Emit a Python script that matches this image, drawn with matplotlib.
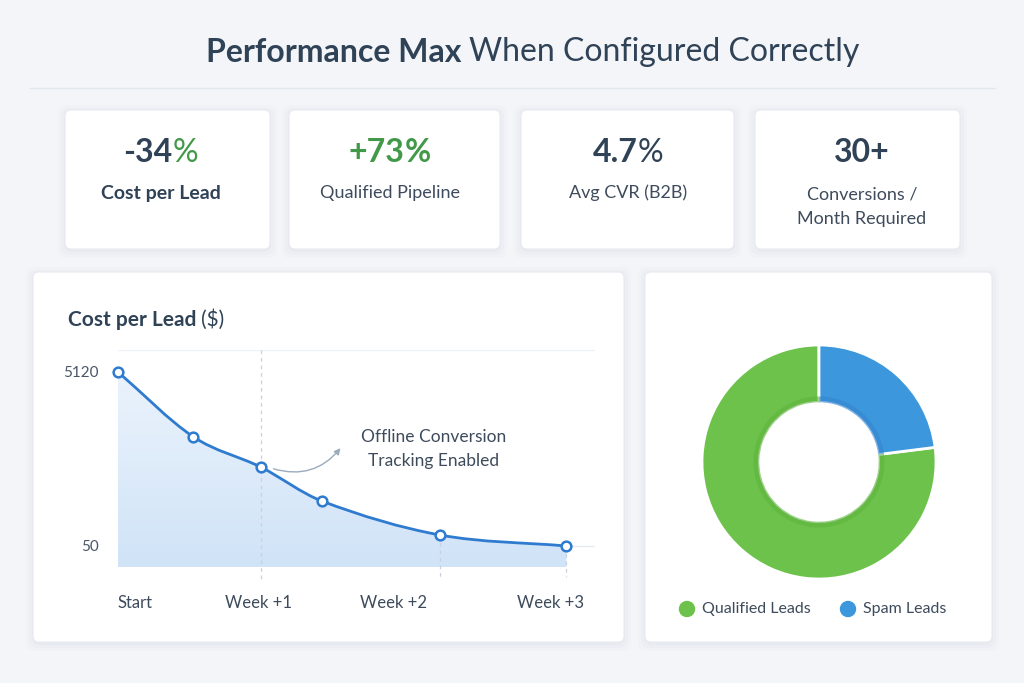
import matplotlib
matplotlib.use("Agg")
import matplotlib.pyplot as plt
import numpy as np
from matplotlib.patches import FancyBboxPatch, Circle, PathPatch
from matplotlib.path import Path
from matplotlib.colors import LinearSegmentedColormap

plt.rcParams['font.family'] = ['Lato', 'DejaVu Sans']

# KPI cards
kpi_values = ["-34", "+73", "4.7", "30+"]
kpi_suffix = ["%", "%", "%", ""]
kpi_labels = ["Cost per Lead", "Qualified Pipeline", "Avg CVR (B2B)", "Conversions /\nMonth Required"]

# cost per lead line (x in days since start)
cpl_days = [0, 3.7, 7, 10, 15.8, 22]
cpl_values = [5120, 3230, 2350, 1360, 370, 50]
week_labels = ["Start", "Week +1", "Week +2", "Week +3"]

# lead split
lead_labels = ["Qualified Leads", "Spam Leads"]
lead_shares = [77, 23]

DARK = "#2f4256"
TEXT = "#3e4b5c"
GREEN = "#43994a"
BLUE_LINE = "#2e7bcf"
BG = "#f3f5f9"

fig = plt.figure(figsize=(10.24, 6.83), dpi=100)
fig.patch.set_facecolor(BG)
bg = fig.add_axes([0, 0, 1, 1])
bg.set_xlim(0, 1024)
bg.set_ylim(683, 0)
bg.axis('off')
renderer = fig.canvas.get_renderer()


def card(x0, y0, x1, y1):
    for i, a in enumerate([0.018, 0.014, 0.010]):
        s = 2 + i * 3
        bg.add_patch(FancyBboxPatch((x0 - s + 1, y0 - s + 3), x1 - x0 + 2 * s - 2, y1 - y0 + 2 * s - 2,
                                    boxstyle="round,pad=0,rounding_size=8", fc="#1c2b45", ec="none",
                                    alpha=a, zorder=1))
    bg.add_patch(FancyBboxPatch((x0, y0), x1 - x0, y1 - y0, boxstyle="round,pad=0,rounding_size=6",
                                fc="white", ec="#e7ebf1", lw=0.8, zorder=2))


def mixed(x, y, parts, align="center"):
    # parts: (text, weight, color, size) drawn side by side
    items = []
    for txt, w, c, s in parts:
        t = bg.text(0, y, txt, fontsize=s, fontweight=w, color=c, va="center", ha="left", zorder=5)
        items.append(t)
    widths = [t.get_window_extent(renderer).width for t in items]
    total = sum(widths)
    start = x - total / 2 if align == "center" else x
    for t, w in zip(items, widths):
        t.set_x(start)
        start += w


def smooth_path(xs, ys):
    # cubic hermite curve through the points, as bezier segments
    xs, ys = np.asarray(xs, float), np.asarray(ys, float)
    n = len(xs)
    m = np.zeros(n)
    m[0] = (ys[1] - ys[0]) / (xs[1] - xs[0])
    m[-1] = (ys[-1] - ys[-2]) / (xs[-1] - xs[-2])
    for i in range(1, n - 1):
        m[i] = (ys[i + 1] - ys[i - 1]) / (xs[i + 1] - xs[i - 1])
    verts = [(xs[0], ys[0])]
    codes = [Path.MOVETO]
    for i in range(n - 1):
        h = (xs[i + 1] - xs[i]) / 3
        verts += [(xs[i] + h, ys[i] + m[i] * h), (xs[i + 1] - h, ys[i + 1] - m[i + 1] * h),
                  (xs[i + 1], ys[i + 1])]
        codes += [Path.CURVE4] * 3
    return verts, codes


# title + divider
mixed(533, 52, [("Performance Max ", "bold", DARK, 23), ("When Configured Correctly", "normal", DARK, 23)])
bg.plot([30, 995], [88, 88], color="#e2e6ed", lw=1, zorder=1)

# KPI cards
card_x = [(65, 270), (289, 500), (521, 734), (755, 960)]
for i, (x0, x1) in enumerate(card_x):
    card(x0, 110, x1, 249)
    cx = [161, 390, 628, 862][i]
    vcol = GREEN if i == 1 else DARK
    scol = GREEN if i in (0, 1) else DARK
    sw = "bold" if i == 1 else "normal"
    parts = [(kpi_values[i], "bold", vcol, 23)]
    if kpi_suffix[i]:
        parts.append((kpi_suffix[i], sw, scol, 23))
    mixed(cx, 153, parts)
    lab = kpi_labels[i]
    if "\n" in lab:
        for j, line in enumerate(lab.split("\n")):
            bg.text(cx, 194 + 25 * j, line, fontsize=13, color=TEXT, ha="center", va="center", zorder=5)
    else:
        bg.text(cx, 193, lab, fontsize=14 if i == 0 else 13, fontweight="bold" if i == 0 else "normal",
                color=DARK if i == 0 else TEXT, ha="center", va="center", zorder=5)

# bottom cards
card(33, 272, 624, 642)
card(645, 272, 992, 642)

mixed(68, 320, [("Cost per Lead ", "bold", DARK, 15), ("($)", "normal", DARK, 15)], align="left")

# line chart
ax = fig.add_axes([118 / 1024, (683 - 567) / 683, 477 / 1024, 217 / 683])
ax.patch.set_visible(False)
ymin, ymax = -562, 5761
ax.set_xlim(0, 23.4)
ax.set_ylim(ymin, ymax)
for s in ax.spines.values():
    s.set_visible(False)

ax.axhline(50, color="#e6ebf2", lw=1, zorder=1)
ax.axhline(ymax, color="#edf0f5", lw=1, zorder=1)

verts, codes = smooth_path(cpl_days, cpl_values)
fill_path = Path(verts + [(cpl_days[-1], ymin), (cpl_days[0], ymin), verts[0]],
                 codes + [Path.LINETO, Path.LINETO, Path.CLOSEPOLY])
cmap = LinearSegmentedColormap.from_list("f", ["#d0e3f7", "#eef5fd"])
grad = np.linspace(0, 1, 256).reshape(-1, 1)
im = ax.imshow(grad, extent=[0, cpl_days[-1], ymin, ymax], origin="lower", cmap=cmap,
               aspect="auto", zorder=1)
im.set_clip_path(fill_path, transform=ax.transData)

dash = dict(color="#c8d1dc", lw=0.9, ls=(0, (3, 3)), clip_on=False, zorder=2)
ax.plot([7, 7], [ymax, -950], **dash)
ax.plot([cpl_days[4]] * 2, [cpl_values[4], -850], **dash)
ax.plot([cpl_days[5]] * 2, [cpl_values[5], -850], **dash)

ax.add_patch(PathPatch(Path(verts, codes), fc="none", ec=BLUE_LINE, lw=2, zorder=4, clip_on=False))
ax.plot(cpl_days, cpl_values, ls="none", marker="o", ms=7, mfc="white", mec=BLUE_LINE,
        mew=1.8, zorder=5, clip_on=False)

ax.set_yticks([50, 5120])
ax.set_yticklabels(["50", "5120"])
ax.set_xticks([0, 6.9, 13.5, 21.2])
ax.set_xticklabels(week_labels)
ax.get_xticklabels()[0].set_ha("left")
ax.tick_params(axis="y", length=0, pad=14, labelsize=11, labelcolor="#4a5568")
ax.tick_params(axis="x", length=0, pad=20, labelsize=12, labelcolor="#3e4b5c")

ax.annotate("", xy=(11.0, 2964), xytext=(7.5, 2323),
            arrowprops=dict(arrowstyle="-|>", color="#9aabbd", lw=1, mutation_scale=9,
                            connectionstyle="arc3,rad=0.35"), zorder=3)
ax.text(15.5, 2876, "Offline Conversion\nTracking Enabled", fontsize=12.5, color=TEXT,
        ha="center", va="center", multialignment="center", linespacing=1.55, zorder=5)

# donut
dx = fig.add_axes([(819 - 130) / 1024, (683 - 462 - 130) / 683, 260 / 1024, 260 / 683])
start = 90 - 360 * lead_shares[1] / sum(lead_shares)
wedges, _ = dx.pie(lead_shares, colors=["#6cc24a", "#3d97dc"], startangle=start, counterclock=False,
                   radius=1, wedgeprops=dict(width=0.49, edgecolor="white", linewidth=2))
# subtle darker inner rim for depth
dx.pie(lead_shares, colors=["#5eb33e", "#3585d0"], startangle=start, counterclock=False,
       radius=0.56, wedgeprops=dict(width=0.05, edgecolor="none", linewidth=0, alpha=0.6))
dx.set_xlim(-1.111, 1.111)
dx.set_ylim(-1.111, 1.111)
dx.set_aspect("equal")
dx.axis("off")

# legend
leg_x = [687, 848]
for lx, lab, col in zip(leg_x, lead_labels, ["#6cc24a", "#3d97dc"]):
    bg.add_patch(Circle((lx, 609), 7.5, color=col, zorder=5))
    bg.text(lx + 15, 609, lab, fontsize=11.5, color=TEXT, ha="left", va="center", zorder=5)

fig.savefig("out.png", dpi=100, facecolor=fig.get_facecolor())
